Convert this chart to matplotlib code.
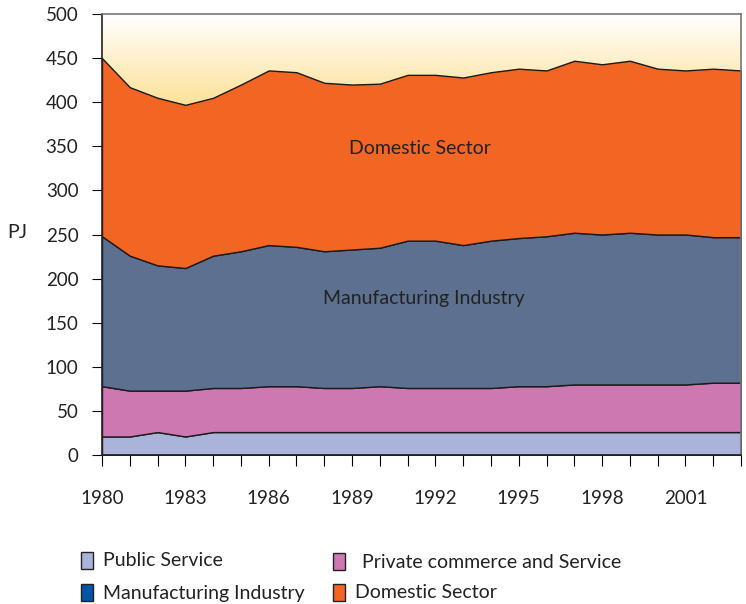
import numpy as np
import matplotlib.pyplot as plt
from matplotlib.colors import LinearSegmentedColormap
from matplotlib.patches import Rectangle

plt.rcParams["font.family"] = ["Lato", "DejaVu Sans"]

years = list(range(1980, 2004))
public_service = [21, 21, 26, 21, 26, 26, 26, 26, 26, 26, 26, 26,
                  26, 26, 26, 26, 26, 26, 26, 26, 26, 26, 26, 26]
private_commerce = [57, 52, 47, 52, 50, 50, 52, 52, 50, 50, 52, 50,
                    50, 50, 50, 52, 52, 54, 54, 54, 54, 54, 56, 56]
manufacturing = [170, 153, 142, 139, 150, 155, 160, 158, 155, 157, 157, 167,
                 167, 162, 167, 168, 170, 172, 170, 172, 170, 170, 165, 165]
domestic = [202, 191, 190, 185, 179, 189, 198, 198, 191, 187, 186, 188,
            188, 190, 191, 192, 188, 195, 193, 195, 188, 186, 191, 189]

labels = ["Public Service", "Private commerce and Service",
          "Manufacturing Industry", "Domestic Sector"]
colors = ["#aab4da", "#cd78b0", "#5d7090", "#f26522"]
legend_colors = ["#aab4da", "#cd78b0", "#0055a5", "#f26522"]
year_labels = ["1980", "1983", "1986", "1989", "1992", "1995", "1998", "2001"]

fig = plt.figure(figsize=(7.46, 6.04), dpi=100)
ax = fig.add_axes([102 / 746, 1 - 455 / 604, 639 / 746, 441 / 604])

# yellow gradient behind the stack
cmap = LinearSegmentedColormap.from_list(
    "sky", [(0, "#fcd070"), (0.8, "#fde29a"), (1, "#ffffff")])
grad = np.linspace(0, 1, 256).reshape(-1, 1)
ax.imshow(grad, aspect="auto", cmap=cmap, origin="lower",
          extent=[1980, 2003, 0, 500], zorder=0)

ax.stackplot(years, public_service, private_commerce, manufacturing, domestic,
             colors=colors, edgecolor="#1a1a1a", linewidth=1, zorder=2)

ax.set_xlim(1980, 2003)
ax.set_ylim(0, 500)
ax.set_yticks(range(0, 501, 50))
ax.set_xticks(years)
ax.set_xticklabels([str(y) if str(y) in year_labels else "" for y in years])
ax.tick_params(axis="y", direction="out", length=7, pad=10, labelsize=13.5,
               labelcolor="#222222")
ax.tick_params(axis="x", direction="out", length=8, pad=17, labelsize=13.5,
               labelcolor="#222222")

for side in ["top", "right"]:
    ax.spines[side].set_color("#777777")
    ax.spines[side].set_linewidth(1.2)
for side in ["left", "bottom"]:
    ax.spines[side].set_color("#222222")
    ax.spines[side].set_linewidth(1.2)

ax.text(1991.45, 348, "Domestic Sector", ha="center", va="center",
        fontsize=14, color="#222222", zorder=3)
ax.text(1991.6, 177, "Manufacturing Industry", ha="center", va="center",
        fontsize=14, color="#222222", zorder=3)

fig.text(17 / 746, 1 - 232 / 604, "PJ", ha="center", va="center", fontsize=14,
         color="#222222")

# legend drawn by hand, two columns
legend_pos = [(81, 561), (333, 562), (81, 593), (333, 593)]
for (lx, ly), lab, col in zip(legend_pos, labels, legend_colors):
    fig.add_artist(Rectangle((lx / 746, 1 - (ly + 8) / 604), 12 / 746, 17 / 604,
                             transform=fig.transFigure, facecolor=col,
                             edgecolor="#222222", linewidth=1))
    tx = lx + 22 if lab != "Private commerce and Service" else lx + 29
    fig.text(tx / 746, 1 - ly / 604, lab, ha="left", va="center",
             fontsize=14, color="#222222")

plt.savefig("out.png", dpi=100)
